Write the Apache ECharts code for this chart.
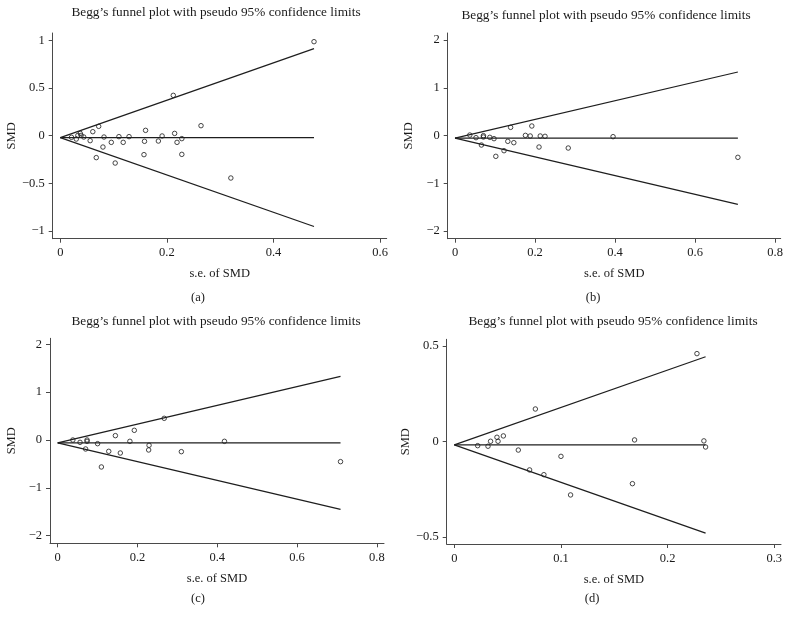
<!DOCTYPE html>
<html>
<head>
<meta charset="utf-8">
<script src="https://cdn.jsdelivr.net/npm/echarts@6/dist/echarts.min.js"></script>
<style>html,body{margin:0;padding:0;background:#fff}#c{width:790px;height:618px}</style>
</head>
<body>
<div id="c"></div>
<script>
// ---- Data ----
const titleText = "Begg\u2019s funnel plot with pseudo 95% confidence limits";
const xName = "s.e. of SMD";
const yName = "SMD";
const panelLabels = ["(a)", "(b)", "(c)", "(d)"];

// Panel (a)
const seA  = [0.021,0.030,0.033,0.0375,0.039,0.044,0.056,0.061,0.0675,0.072,0.080,0.082,0.0957,0.103,0.110,0.118,0.129,0.157,0.158,0.160,0.184,0.191,0.212,0.2145,0.219,0.228,0.228,0.264,0.320,0.476];
const smdA = [-0.017,-0.035,0.003,0.024,0.003,-0.014,-0.052,0.042,-0.23,0.098,-0.119,-0.014,-0.07,-0.287,-0.010,-0.07,-0.010,-0.199,-0.059,0.056,-0.056,-0.003,0.423,0.024,-0.07,-0.031,-0.196,0.105,-0.444,0.986];
const pooledA = -0.02, maxSeA = 0.476;
const xTicksA = [0,0.2,0.4,0.6], yTicksA = [-1,-0.5,0,0.5,1];

// Panel (b)
const seB  = [0.037,0.0525,0.066,0.071,0.071,0.087,0.0975,0.102,0.1225,0.132,0.139,0.147,0.176,0.188,0.192,0.210,0.213,0.225,0.283,0.395,0.707];
const smdB = [0.010,-0.045,-0.199,-0.003,-0.031,-0.038,-0.066,-0.436,-0.318,-0.122,0.171,-0.150,0.003,-0.010,0.199,-0.241,-0.010,-0.017,-0.262,-0.024,-0.457];
const pooledB = -0.055, maxSeB = 0.707;
const xTicksB = [0,0.2,0.4,0.6,0.8], yTicksB = [-2,-1,0,1,2];

// Panel (c)
const seC  = [0.038,0.056,0.070,0.0736,0.0736,0.100,0.1095,0.128,0.1446,0.157,0.181,0.192,0.228,0.229,0.267,0.310,0.418,0.709];
const smdC = [0.0,-0.049,-0.188,0.0,-0.028,-0.077,-0.564,-0.237,0.091,-0.272,-0.028,0.202,-0.209,-0.111,0.453,-0.244,-0.028,-0.453];
const pooledC = -0.06, maxSeC = 0.709;
const xTicksC = [0,0.2,0.4,0.6,0.8], yTicksC = [-2,-1,0,1,2];

// Panel (d)
const seD  = [0.0219,0.0316,0.034,0.040,0.041,0.046,0.060,0.0706,0.076,0.084,0.100,0.109,0.167,0.169,0.2275,0.234,0.2356];
const smdD = [-0.022,-0.025,0.001,0.022,0.001,0.029,-0.045,-0.149,0.170,-0.174,-0.078,-0.280,-0.221,0.008,0.460,0.003,-0.029];
const pooledD = -0.018, maxSeD = 0.2356;
const xTicksD = [0,0.1,0.2,0.3], yTicksD = [-0.5,0,0.5];

// ---- Build ----
const FONT = "Liberation Serif";
const TXT = "#1a1a1a";
const AX = "#4a4a4a";
const LINE = "#1e1e1e";

const panels = [
  {se: seA, smd: smdA, pooled: pooledA, maxSe: maxSeA, xt: xTicksA, yt: yTicksA,
   grid: {left: 52.7, top: 33, width: 334, height: 205.7}, xr: [-0.01426, 0.6124], yr: [-1.0805, 1.077],
   title: [216, 13], lab: [198, 298]},
  {se: seB, smd: smdB, pooled: pooledB, maxSe: maxSeB, xt: xTicksB, yt: yTicksB,
   grid: {left: 447.7, top: 33, width: 333, height: 205.7}, xr: [-0.01825, 0.814], yr: [-2.161, 2.147],
   title: [606, 16], lab: [593, 298]},
  {se: seC, smd: smdC, pooled: pooledC, maxSe: maxSeC, xt: xTicksC, yt: yTicksC,
   grid: {left: 50, top: 338.3, width: 334, height: 205}, xr: [-0.0193, 0.818], yr: [-2.16, 2.126],
   title: [216, 322], lab: [198, 599]},
  {se: seD, smd: smdD, pooled: pooledD, maxSe: maxSeD, xt: xTicksD, yt: yTicksD,
   grid: {left: 446.7, top: 339.3, width: 334.3, height: 204.7}, xr: [-0.00713, 0.3063], yr: [-0.537, 0.535],
   title: [613, 322], lab: [592, 599]}
];

const fmt = v => String(v).replace('-', '\u2212');

const grids = [], xAxes = [], yAxes = [], series = [], graphics = [];
panels.forEach((p, i) => {
  grids.push(Object.assign({containLabel: false}, p.grid));
  xAxes.push({
    type: 'value', gridIndex: i, min: p.xr[0], max: p.xr[1],
    name: xName, nameLocation: 'middle', nameGap: 29,
    nameTextStyle: {fontFamily: FONT, fontSize: 12.5, color: TXT},
    axisLine: {show: true, onZero: false, lineStyle: {color: AX, width: 1}},
    axisTick: {show: true, length: 4, customValues: p.xt, lineStyle: {color: AX}},
    axisLabel: {customValues: p.xt, formatter: fmt, margin: 8, fontFamily: FONT, fontSize: 12.5, color: TXT},
    splitLine: {show: false}
  });
  yAxes.push({
    type: 'value', gridIndex: i, min: p.yr[0], max: p.yr[1],
    name: yName, nameLocation: 'middle', nameGap: 32, nameRotate: 90,
    nameTextStyle: {fontFamily: FONT, fontSize: 12.5, color: TXT},
    axisLine: {show: true, onZero: false, lineStyle: {color: AX, width: 1}},
    axisTick: {show: true, length: 4, customValues: p.yt, lineStyle: {color: AX}},
    axisLabel: {customValues: p.yt, formatter: fmt, margin: 8, fontFamily: FONT, fontSize: 12.5, color: TXT},
    splitLine: {show: false}
  });
  const lineBase = {type: 'line', xAxisIndex: i, yAxisIndex: i, symbol: 'none', silent: true,
    lineStyle: {color: LINE, width: 1.2}, animation: false};
  series.push(Object.assign({}, lineBase, {data: [[0, p.pooled], [p.maxSe, p.pooled]]}));
  series.push(Object.assign({}, lineBase, {data: [[0, p.pooled], [p.maxSe, p.pooled + 1.96 * p.maxSe]]}));
  series.push(Object.assign({}, lineBase, {data: [[0, p.pooled], [p.maxSe, p.pooled - 1.96 * p.maxSe]]}));
  series.push({
    type: 'scatter', xAxisIndex: i, yAxisIndex: i, animation: false,
    symbol: 'circle', symbolSize: 4.5,
    itemStyle: {color: 'rgba(255,255,255,0)', borderColor: '#1a1a1a', borderWidth: 1},
    data: p.se.map((s, k) => [s, p.smd[k]])
  });
  graphics.push({type: 'text', x: p.title[0], y: p.title[1],
    style: {text: titleText, fontFamily: FONT, fontSize: 13.3, fill: TXT, align: 'center', verticalAlign: 'middle'}});
  graphics.push({type: 'text', x: p.lab[0], y: p.lab[1],
    style: {text: panelLabels[i], fontFamily: FONT, fontSize: 12.5, fill: TXT, align: 'center', verticalAlign: 'middle'}});
});

const chart = echarts.init(document.getElementById('c'), null, {renderer: 'canvas'});
chart.setOption({
  backgroundColor: '#fff',
  animation: false,
  grid: grids, xAxis: xAxes, yAxis: yAxes, series: series, graphic: graphics
});
</script>
</body>
</html>
